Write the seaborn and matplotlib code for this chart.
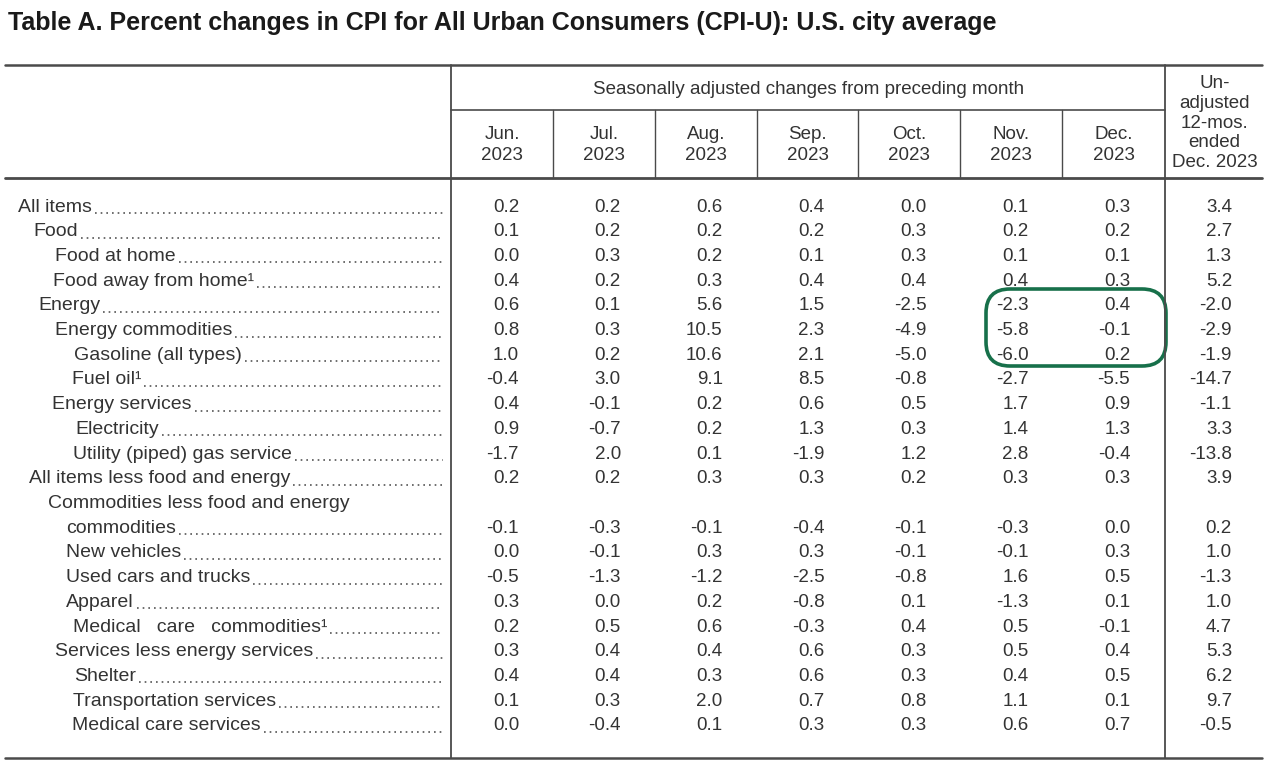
import numpy as np
import pandas as pd
import matplotlib
matplotlib.use('Agg')
import matplotlib.pyplot as plt
from matplotlib import font_manager
from matplotlib.colors import ListedColormap
from matplotlib.patches import FancyBboxPatch
import seaborn as sns

nan = np.nan

title = 'Table A. Percent changes in CPI for All Urban Consumers (CPI-U): U.S. city average'
group_header = 'Seasonally adjusted changes from preceding month'
months = ['Jun.\n2023', 'Jul.\n2023', 'Aug.\n2023', 'Sep.\n2023', 'Oct.\n2023', 'Nov.\n2023', 'Dec.\n2023']
last_header = 'Un-\nadjusted\n12-mos.\nended\nDec. 2023'

items = ['All items', 'Food', 'Food at home', 'Food away from home\u00b9', 'Energy',
         'Energy commodities', 'Gasoline (all types)', 'Fuel oil\u00b9', 'Energy services',
         'Electricity', 'Utility (piped) gas service', 'All items less food and energy',
         'Commodities less food and energy', 'commodities', 'New vehicles',
         'Used cars and trucks', 'Apparel', 'Medical   care   commodities\u00b9',
         'Services less energy services', 'Shelter', 'Transportation services',
         'Medical care services']

# valores (la fila 12 es solo el texto de la primera linea, sin datos)
jun23 = [0.2, 0.1, 0.0, 0.4, 0.6, 0.8, 1.0, -0.4, 0.4, 0.9, -1.7, 0.2, nan, -0.1, 0.0, -0.5, 0.3, 0.2, 0.3, 0.4, 0.1, 0.0]
jul23 = [0.2, 0.2, 0.3, 0.2, 0.1, 0.3, 0.2, 3.0, -0.1, -0.7, 2.0, 0.2, nan, -0.3, -0.1, -1.3, 0.0, 0.5, 0.4, 0.4, 0.3, -0.4]
aug23 = [0.6, 0.2, 0.2, 0.3, 5.6, 10.5, 10.6, 9.1, 0.2, 0.2, 0.1, 0.3, nan, -0.1, 0.3, -1.2, 0.2, 0.6, 0.4, 0.3, 2.0, 0.1]
sep23 = [0.4, 0.2, 0.1, 0.4, 1.5, 2.3, 2.1, 8.5, 0.6, 1.3, -1.9, 0.3, nan, -0.4, 0.3, -2.5, -0.8, -0.3, 0.6, 0.6, 0.7, 0.3]
oct23 = [0.0, 0.3, 0.3, 0.4, -2.5, -4.9, -5.0, -0.8, 0.5, 0.3, 1.2, 0.2, nan, -0.1, -0.1, -0.8, 0.1, 0.4, 0.3, 0.3, 0.8, 0.3]
nov23 = [0.1, 0.2, 0.1, 0.4, -2.3, -5.8, -6.0, -2.7, 1.7, 1.4, 2.8, 0.3, nan, -0.3, -0.1, 1.6, -1.3, 0.5, 0.5, 0.4, 1.1, 0.6]
dec23 = [0.3, 0.2, 0.1, 0.3, 0.4, -0.1, 0.2, -5.5, 0.9, 1.3, -0.4, 0.3, nan, 0.0, 0.3, 0.5, 0.1, -0.1, 0.4, 0.5, 0.1, 0.7]
yr23 = [3.4, 2.7, 1.3, 5.2, -2.0, -2.9, -1.9, -14.7, -1.1, 3.3, -13.8, 3.9, nan, 0.2, 1.0, -1.3, 1.0, 4.7, 5.3, 6.2, 9.7, -0.5]

# sangria de cada etiqueta (px) y si lleva puntos
indent = [18, 33, 55, 53, 38, 55, 74, 72, 52, 75, 73, 29, 48, 66, 66, 66, 66, 73, 55, 74, 73, 72]
leader = [True] * len(items)
leader[12] = False

df = pd.DataFrame({'jun': jun23, 'jul': jul23, 'aug': aug23, 'sep': sep23,
                   'oct': oct23, 'nov': nov23, 'dec': dec23, 'yr': yr23}, index=items)

sns.set_theme(style='white')
plt.rcParams['font.family'] = ['Liberation Sans', 'DejaVu Sans']
nombres = {f.name for f in font_manager.fontManager.ttflist}
narrow = ['Liberation Sans Narrow', 'Liberation Sans'] if 'Liberation Sans Narrow' in nombres else ['Liberation Sans']

W, H = 1280, 764
fig = plt.figure(figsize=(W / 100, H / 100), dpi=100)
ax = fig.add_axes([0, 0, 1, 1])
ax.set_xlim(0, W)
ax.set_ylim(H, 0)
ax.axis('off')

txt = '#333333'
linec = '#4a4a4a'

ax.text(8, 23, title, fontsize=18, fontweight='bold', color='#1a1a1a', va='center', ha='left')

# lineas de la tabla
x_left, x_stub, x_last, x_right = 5, 451, 1165, 1262
col_edges = [451, 553, 655, 757, 858, 960, 1062, 1165]
ax.plot([x_left, x_right], [65, 65], color=linec, lw=1.8)
ax.plot([x_left, x_right], [178, 178], color=linec, lw=2.0)
ax.plot([x_left, x_right], [758, 758], color=linec, lw=1.8)
ax.plot([x_stub, x_last], [110, 110], color=linec, lw=1.2)
ax.plot([x_stub, x_stub], [65, 758], color=linec, lw=1.3)
ax.plot([x_last, x_last], [65, 758], color=linec, lw=1.3)
for xe in col_edges[1:-1]:
    ax.plot([xe, xe], [110, 178], color=linec, lw=1.0)

# encabezados
ax.text((x_stub + x_last) / 2 + 1, 89, group_header, fontsize=13.5, color=txt, ha='center', va='center', family=narrow)
for i, m in enumerate(months):
    cx = (col_edges[i] + col_edges[i + 1]) / 2
    ax.text(cx, 145, m, fontsize=13.5, color=txt, ha='center', va='center', linespacing=1.3, family=narrow)
ax.text((x_last + x_right) / 2 + 1, 123, last_header, fontsize=13.5, color=txt, ha='center', va='center',
        linespacing=1.22, family=narrow)

# etiquetas de filas
row0, step = 207, 24.71
labels = []
for i, lab in enumerate(items):
    y = row0 + step * i
    t = ax.text(indent[i], y, lab, fontsize=14, color=txt, ha='left', va='center')
    labels.append((t, y))

fig.canvas.draw()
rend = fig.canvas.get_renderer()
inv = ax.transData.inverted()
for i, (t, y) in enumerate(labels):
    if not leader[i]:
        continue
    bb = t.get_window_extent(rend)
    xe = inv.transform((bb.x1, bb.y0))[0]
    ax.plot([xe + 3, 443], [y + 6, y + 6], color='#555555', lw=1.2, linestyle=(0, (1, 2.4)))

# numeros con heatmap transparente
n = len(items)
cw = (1232 - 519) / 7
x0 = 519 - cw / 2
top = row0 - step / 2
hax = fig.add_axes([x0 / W, 1 - (top + step * n) / H, 8 * cw / W, step * n / H])
sns.heatmap(df, ax=hax, cmap=ListedColormap([(1, 1, 1, 0)]), cbar=False, annot=True, fmt='.1f',
            annot_kws={'fontsize': 13.5, 'color': txt, 'ha': 'right'})
hax.axis('off')
hax.patch.set_alpha(0)

# marca a mano en verde
loop = FancyBboxPatch((986, 289), 180, 77, boxstyle='round,pad=0,rounding_size=24',
                      fill=False, edgecolor='#17704a', lw=2.6)
ax.add_patch(loop)

fig.savefig('out.png', dpi=100, facecolor='white')
